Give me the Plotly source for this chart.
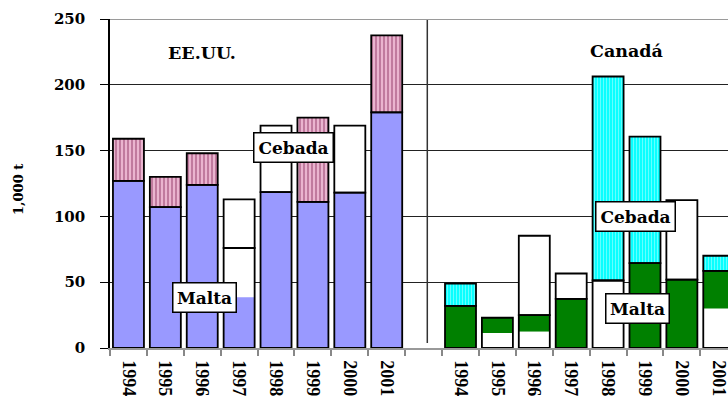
import plotly.graph_objects as go

# ---------------------------------------------------------------
# Data (1,000 t)
# ---------------------------------------------------------------
years = ["1994", "1995", "1996", "1997", "1998", "1999", "2000", "2001"]

# EE.UU.
us_malta = [127, 107, 124, 76, 118.5, 111, 118, 179]          # top of the lower (Malta) box
us_total = [159, 130, 148, 113, 169, 175, 169, 237.5]         # top of the whole bar
us_fill_lo = [0, 0, 0, 0, 0, 0, 0, 0]                         # shaded part inside the Malta box
us_fill_hi = [127, 107, 124, 38.5, 118.5, 111, 118, 179]
us_cebada_shaded = [True, True, True, False, False, True, False, True]

# Canadá
ca_malta = [32, 23, 25, 37.3, 51.3, 64.5, 52, 58.6]
ca_total = [49, 23, 85.3, 56.6, 206.3, 160.6, 112.4, 70.1]
ca_fill_lo = [0, 11.4, 12.5, 0, 51.3, 0, 0, 30]
ca_fill_hi = [32, 23, 25, 37.3, 51.3, 64.5, 52, 58.6]
ca_cebada_shaded = [True, False, False, False, True, True, False, True]

# ---------------------------------------------------------------
# Styling
# ---------------------------------------------------------------
FONT = "DejaVu Serif"
YEAR_FONT = "Liberation Serif"
BAR_W = 0.84
US_MALTA_COLOR = "#9999FF"
CA_MALTA_COLOR = "#008000"
US_CEBADA = dict(shape="|", fgcolor="#953F6E", bgcolor="#EAB4CF", size=4, solidity=0.5)
CA_CEBADA = dict(shape="|", fgcolor="#C8FFFF", bgcolor="#00FFFF", size=3, solidity=0.4)
OUTLINE = dict(color="black", width=1.8)

us_x = list(range(len(years)))
ca_x = [x + len(years) + 1 for x in us_x]      # one empty slot between the two groups

fig = go.Figure()


def add_group(x, malta, total, lo, hi, shaded, malta_color, cebada_pattern):
    common = dict(x=x, width=BAR_W, hoverinfo="skip", showlegend=False)
    # opaque white body of every bar
    fig.add_bar(y=total, base=[0] * len(x),
                marker=dict(color="white", line=dict(width=0)), **common)
    # shaded Malta part
    fig.add_bar(y=[h - l if h > l else None for l, h in zip(lo, hi)], base=lo,
                marker=dict(color=malta_color, line=dict(width=0)), **common)
    # shaded Cebada part
    fig.add_bar(y=[t - m if s and t > m else None for m, t, s in zip(malta, total, shaded)],
                base=malta,
                marker=dict(color=cebada_pattern["bgcolor"], pattern=cebada_pattern,
                            line=dict(width=0)), **common)
    # box outlines
    fig.add_bar(y=malta, base=[0] * len(x),
                marker=dict(color="rgba(0,0,0,0)", line=OUTLINE), **common)
    fig.add_bar(y=[t - m if t > m else None for m, t in zip(malta, total)], base=malta,
                marker=dict(color="rgba(0,0,0,0)", line=OUTLINE), **common)


add_group(us_x, us_malta, us_total, us_fill_lo, us_fill_hi, us_cebada_shaded,
          US_MALTA_COLOR, US_CEBADA)
add_group(ca_x, ca_malta, ca_total, ca_fill_lo, ca_fill_hi, ca_cebada_shaded,
          CA_MALTA_COLOR, CA_CEBADA)

edges = [x - 0.5 for x in us_x] + [us_x[-1] + 0.5] + [x - 0.5 for x in ca_x]


def label(text, x, y, size=17, box=True, w=None):
    a = dict(text=f"<b>{text}</b>", x=x, y=y, xref="x", yref="y", showarrow=False,
             xanchor="center", yanchor="middle",
             font=dict(family=FONT, size=size, color="black"))
    if box:
        a.update(bgcolor="white", bordercolor="black", borderwidth=1.5, borderpad=2)
        if w:
            a.update(width=w, height=24)
    return a


fig.update_layout(
    width=728, height=397,
    margin=dict(l=110, r=0, t=19, b=49),
    paper_bgcolor="white", plot_bgcolor="white",
    barmode="overlay", showlegend=False,
    font=dict(family=FONT, color="black"),
    xaxis=dict(
        range=[-0.5, 16.25], automargin=False,
        tickmode="array", tickvals=us_x + ca_x, ticktext=years + years,
        tickangle=90, ticks="", ticklabelstandoff=7, ticklabeloverflow="allow",
        tickfont=dict(family=YEAR_FONT, size=18, weight="bold", color="black"),
        showline=True, linecolor="#999999", linewidth=1.5,
        showgrid=False, zeroline=False,
        minor=dict(tickmode="array", tickvals=edges, ticks="outside", ticklen=6,
                   tickcolor="#888888", tickwidth=1.5, showgrid=False),
    ),
    yaxis=dict(
        range=[0, 250], automargin=False,
        tickmode="array", tickvals=[0, 50, 100, 150, 200, 250],
        ticks="outside", ticklen=8, tickcolor="black", tickwidth=1,
        ticklabelstandoff=12,
        tickfont=dict(family=FONT, size=15, weight="bold", color="black"),
        showline=True, linecolor="black", linewidth=1.5,
        showgrid=True, gridcolor="#222222", gridwidth=1, zeroline=False,
    ),
    shapes=[
        # divider between the two countries
        dict(type="line", xref="x", yref="y", x0=8.1, x1=8.1, y0=3.8, y1=250,
             line=dict(color="#333333", width=1.5)),
        # top frame line
        dict(type="line", xref="paper", yref="y", x0=0, x1=1, y0=250, y1=250,
             line=dict(color="#9a9a9a", width=2)),
    ],
    annotations=[
        label("EE.UU.", 2.0, 224, size=17.5, box=False),
        label("Canadá", 13.5, 226, size=17.5, box=False),
        label("Cebada", 4.48, 152.3, w=74),
        label("Malta", 2.07, 38.6, w=58),
        label("Cebada", 13.74, 100.1, w=74),
        label("Malta", 13.8, 29.7, w=58),
        dict(text="<b>1,000 t</b>", xref="paper", yref="paper", x=-0.149, y=0.483,
             xanchor="center", yanchor="middle", textangle=-90, showarrow=False,
             font=dict(family=FONT, size=13, color="black")),
    ],
)

fig.write_html("out.html")
